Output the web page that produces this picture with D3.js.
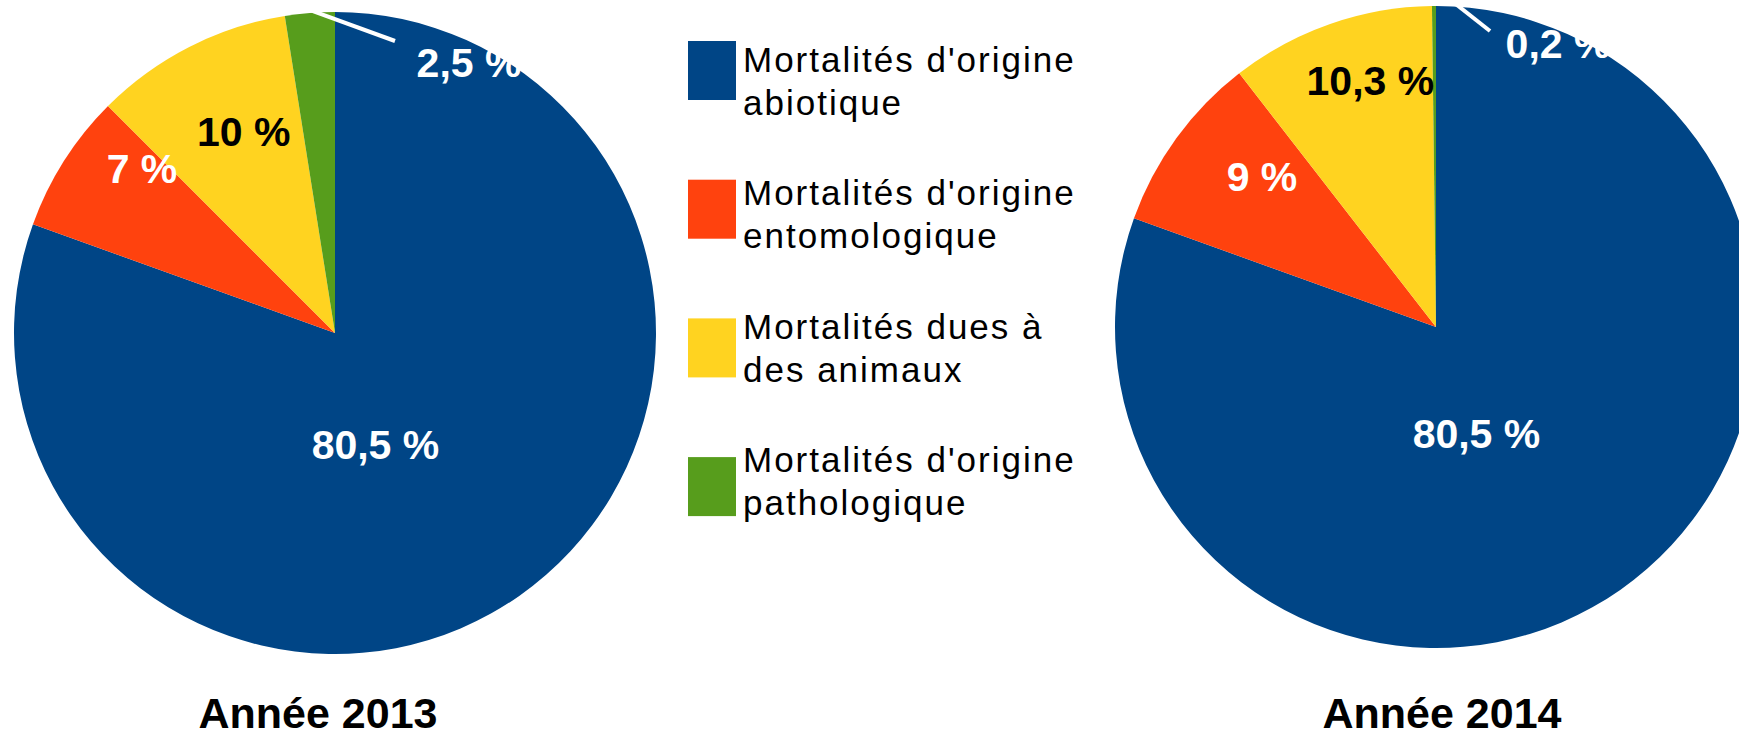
<!DOCTYPE html>
<html>
<head>
<meta charset="utf-8">
<script src="https://cdn.jsdelivr.net/npm/d3@7/dist/d3.min.js"></script>
<style>
  html, body { margin: 0; padding: 0; background: #ffffff; overflow: hidden; }
  svg { display: block; }
</style>
</head>
<body>
<svg id="chart" width="1739" height="729"></svg>
<script>
// ---------- DATA ----------
const categories = [
  "Mortalités d'origine abiotique",
  "Mortalités d'origine entomologique",
  "Mortalités dues à des animaux",
  "Mortalités d'origine pathologique"
];
const legendLines = [
  ["Mortalités d'origine", "abiotique"],
  ["Mortalités d'origine", "entomologique"],
  ["Mortalités dues à", "des animaux"],
  ["Mortalités d'origine", "pathologique"]
];
const years = ["Année 2013", "Année 2014"];
const values2013 = [80.5, 7, 10, 2.5];
const values2014 = [80.5, 9, 10.3, 0.2];
const labels2013 = ["80,5 %", "7 %", "10 %", "2,5 %"];
const labels2014 = ["80,5 %", "9 %", "10,3 %", "0,2 %"];
const colors = ["#004586", "#ff420e", "#ffd320", "#579d1c"];
const labelColors = ["#ffffff", "#ffffff", "#000000", "#ffffff"];

// ---------- LAYOUT / STYLE ----------
const W = 1739, H = 729;
const R = 321;
const pies = [
  { cx: 335, cy: 333, values: values2013, labels: labels2013, title: years[0], titleDx: -17,
    nudges: [[-74, -37], [-25, -43], [-1, -10]],
    outside: { dx: 134, dy: -256, leadR: 1.01, endDx: -74, endDy: -36 } },
  { cx: 1436, cy: 327, values: values2014, labels: labels2014, title: years[1], titleDx: 6,
    nudges: [[-74, -42], [-13, -19], [0, -44]],
    outside: { dx: 122, dy: -269, leadR: 1.06, endDx: -68, endDy: -27 } }
];

const svg = d3.select("#chart");
svg.append("rect").attr("width", W).attr("height", H).attr("fill", "#ffffff");

const pie = d3.pie().sort(null).value(d => d).startAngle(0).endAngle(2 * Math.PI);
const arc = d3.arc().innerRadius(0).outerRadius(R);
const labelArc = d3.arc().innerRadius(R * 0.62).outerRadius(R * 0.62);

const labelFont = "'Liberation Sans', Arial, Helvetica, sans-serif";

pies.forEach(p => {
  const g = svg.append("g").attr("transform", `translate(${p.cx},${p.cy})`);
  const arcs = pie(p.values);

  g.selectAll("path.slice")
    .data(arcs)
    .join("path")
    .attr("class", "slice")
    .attr("d", arc)
    .attr("fill", (d, i) => colors[i]);

  // inside labels (first three slices)
  arcs.forEach((d, i) => {
    if (i < 3) {
      const c = labelArc.centroid(d);
      g.append("text")
        .attr("x", c[0] + p.nudges[i][0])
        .attr("y", c[1] + p.nudges[i][1])
        .attr("text-anchor", "middle")
        .attr("font-family", labelFont)
        .attr("font-weight", "bold")
        .attr("font-size", 41)
        .attr("fill", labelColors[i])
        .text(p.labels[i]);
    }
  });

  // outside label for the small slice + leader line
  const small = arcs[3];
  const mid = (small.startAngle + small.endAngle) / 2;
  const o = p.outside;
  const sx = Math.sin(mid) * R * o.leadR, sy = -Math.cos(mid) * R * o.leadR;
  const lx = o.dx, ly = o.dy;
  g.append("line")
    .attr("x1", sx).attr("y1", sy)
    .attr("x2", lx + o.endDx).attr("y2", ly + o.endDy)
    .attr("stroke", "#ffffff")
    .attr("stroke-width", 4);
  g.append("text")
    .attr("x", lx)
    .attr("y", ly)
    .attr("text-anchor", "middle")
    .attr("font-family", labelFont)
    .attr("font-weight", "bold")
    .attr("font-size", 41)
    .attr("fill", labelColors[3])
    .text(p.labels[3]);

  // year title
  svg.append("text")
    .attr("x", p.cx + p.titleDx)
    .attr("y", 728)
    .attr("text-anchor", "middle")
    .attr("font-family", labelFont)
    .attr("font-weight", "bold")
    .attr("font-size", 43)
    .attr("fill", "#000000")
    .text(p.title);
});

// ---------- LEGEND ----------
const legend = svg.append("g");
const swX = 688, swW = 48, swH = 59, swTop0 = 41, swStep = 138.7;
const txX = 743, txBase0 = 72, txStep = 133.3, lineGap = 43;

legendLines.forEach((lines, i) => {
  legend.append("rect")
    .attr("x", swX)
    .attr("y", swTop0 + i * swStep)
    .attr("width", swW)
    .attr("height", swH)
    .attr("fill", colors[i]);
  const t = legend.append("text")
    .attr("font-family", labelFont)
    .attr("font-size", 35)
    .attr("letter-spacing", "2px")
    .attr("fill", "#000000");
  lines.forEach((ln, j) => {
    t.append("tspan")
      .attr("x", txX)
      .attr("y", txBase0 + i * txStep + j * lineGap)
      .text(ln);
  });
});
</script>
</body>
</html>
